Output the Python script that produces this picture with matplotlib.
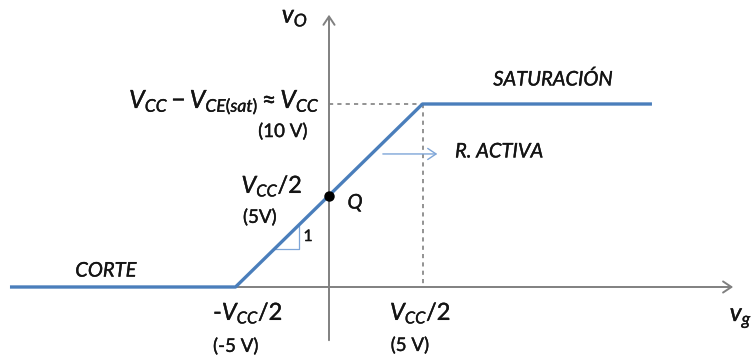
import matplotlib
matplotlib.use("Agg")
import matplotlib.pyplot as plt
import matplotlib.patheffects as pe
from matplotlib.patches import FancyArrowPatch

plt.rcParams['font.family'] = ['Lato', 'DejaVu Sans']
plt.rcParams['mathtext.fontset'] = 'custom'
plt.rcParams['mathtext.rm'] = 'Lato'
plt.rcParams['mathtext.it'] = 'Lato:style=italic'
plt.rcParams['mathtext.bf'] = 'Lato:weight=bold'

# Transfer characteristic v_o(v_g): cut-off, active region, saturation
VCC = 10.0
vg_pts = [-17.06, -5.0, 5.0, 17.27]
vo_pts = [0.0, 0.0, 10.0, 10.0]
q_point = (0.0, 5.0)

# Axis extents
x_axis = (-17.06, 21.76)
y_axis = (-3.06, 15.03)

# Slope marker (unit slope) on the active-region segment
tri_vg = [-2.9, -1.6, -1.6]
tri_vo = [2.1, 2.1, 3.4]

BLUE = '#4a7ebb'
LIGHT_BLUE = '#7ea6d8'
GRAY = '#808080'
TXT = '#141414'

fig = plt.figure(figsize=(7.53, 3.60), dpi=100)
ax = fig.add_axes([0, 0, 1, 1])
ax.set_xlim(-329 / 18.7, 424 / 18.7)
ax.set_ylim(-73 / 18.3, 287 / 18.3)
ax.axis('off')

# Slightly heavier glyphs
heavy = [pe.withStroke(linewidth=0.25, foreground=TXT)]


def label(x, y, s, **kw):
    kw.setdefault('color', TXT)
    return ax.text(x, y, s, path_effects=heavy, **kw)


# Axes with open arrowheads
for start, end in [((x_axis[0], 0), (x_axis[1], 0)), ((0, y_axis[0]), (0, y_axis[1]))]:
    ax.add_patch(FancyArrowPatch(start, end, arrowstyle='->,head_length=6,head_width=4',
                                 mutation_scale=1, color=GRAY, lw=1.4, zorder=1))

# Dashed guides to the saturation knee
ax.plot([0, VCC / 2], [VCC, VCC], color=GRAY, lw=1.2, ls=(0, (2.5, 2.5)), zorder=1)
ax.plot([VCC / 2, VCC / 2], [VCC, 0], color=GRAY, lw=1.2, ls=(0, (2.5, 2.5)), zorder=1)

# Characteristic curve
ax.plot(vg_pts, vo_pts, color=BLUE, lw=2.4, solid_capstyle='butt', zorder=3)

# Slope triangle
ax.plot(tri_vg, tri_vo, color=LIGHT_BLUE, lw=0.9, zorder=2)
label(-1.12, 2.73, '1', fontsize=11.5, ha='center', va='center')

# Quiescent point
ax.plot(*q_point, 'o', color='black', ms=6.5, zorder=4)
label(1.39, 4.59, 'Q', fontsize=14.5, style='italic', ha='center', va='center')

# Active-region arrow
ax.add_patch(FancyArrowPatch((2.73, 7.27), (5.94, 7.27), arrowstyle='->,head_length=6,head_width=4',
                             mutation_scale=1, color=LIGHT_BLUE, lw=1.0, zorder=2))

# Region labels
label(-11.93, 0.87, 'CORTE', fontsize=14.5, style='italic', ha='center', va='center')
label(11.98, 11.34, 'SATURACIÓN', fontsize=14.5, style='italic', ha='center', va='center')
label(6.74, 7.38, 'R. ACTIVA', fontsize=14.5, style='italic', ha='left', va='center')

# Axis labels
label(-1.82, 14.75, r'$v_O$', fontsize=18, ha='center', va='center')
label(22.03, -1.69, r'$v_g$', fontsize=18, ha='center', va='center')

# Vertical-axis level labels
label(-0.48, 9.78, r'$V_{CC} - V_{CE(sat)} \approx V_{CC}$', fontsize=18, ha='right', va='baseline')
label(-2.46, 8.52, '(10 V)', fontsize=13.5, ha='center', va='center')
label(-3.05, 5.14, r'$V_{CC}$/2', fontsize=17, ha='center', va='baseline')
label(-3.69, 3.83, '(5V)', fontsize=13.5, ha='center', va='center')

# Horizontal-axis level labels
label(-6.2, -1.8, r'-$V_{CC}$/2', fontsize=17, ha='left', va='baseline')
label(-6.2, -3.22, '(-5 V)', fontsize=13.5, ha='left', va='center')
label(3.26, -1.8, r'$V_{CC}$/2', fontsize=17, ha='left', va='baseline')
label(3.3, -3.17, '(5 V)', fontsize=13.5, ha='left', va='center')

fig.savefig('out.png', dpi=100, facecolor='white')
